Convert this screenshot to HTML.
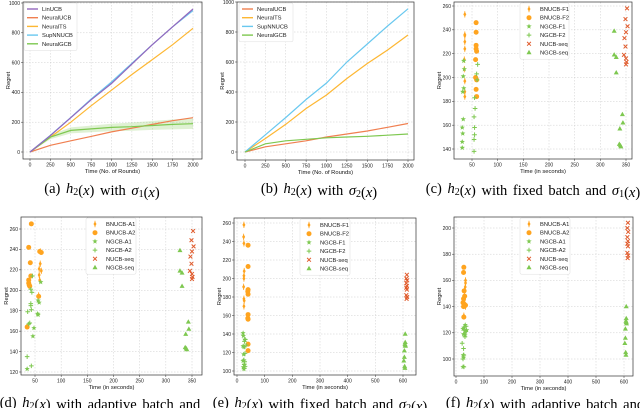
<!DOCTYPE html>
<html><head><meta charset="utf-8"><style>
html,body{margin:0;padding:0;background:#fff;width:640px;height:408px;overflow:hidden}
svg{display:block}
text{font-family:"Liberation Sans",sans-serif}
.cap{font-family:"Liberation Serif",serif;font-size:14.5px;fill:#000;word-spacing:2px}
</style></head><body>
<svg id="fig" width="640" height="408" xmlns="http://www.w3.org/2000/svg"></svg>
<script>
// ---- panel a/b data ----
const roundsX = [0,250,500,750,1000,1250,1500,1750,2000];
const aLinUCB = [0,110,230,350,460,590,720,840,960];
const aSupNN = [0,112,232,355,470,595,720,840,950];
const aNeuralTS = [0,100,200,310,415,520,620,720,830];
const aNeuralUCB = [0,45,75,105,135,160,185,210,230];
const aNeuralGCB = [0,100,145,155,165,170,178,185,190];
const aGCBband = [0,15,20,22,25,28,30,33,35];
const bNeuralUCB = [0,35,55,75,100,120,140,165,190];
const bNeuralTS = [0,90,185,290,380,490,590,680,780];
const bSupNN = [0,115,230,350,460,600,720,840,955];
const bNeuralGCB = [0,55,75,85,95,100,105,112,120];
// ---- panel c ----
const cF1y=[253,236,235,230,224,215,207,197,188,184], cF1x=[36,36,36,36,36,35,35,36,36,36];
const cF2y=[246,238,227,224,222,215,200,198,190,184], cF2x=[58,58,58,58,59,57,57,59,58,59];
const cG1y=[214,207,201,191,188,165,158,153,146,141], cG1x=[34,35,33,34,32,33,31,32,31,31];
const cG2y=[211,203,198,183,174,167,158,152,148,138], cG2x=[61,59,60,55,56,54,55,55,54,54];
const cSy=[258,249,243,238,233,226,219,216,213,211], cSx=[352,349,353,350,347,349,346,350,351,350];
const cQy=[239,219,217,204,169,162,157,144,143,142], cQx=[327,327,331,331,343,344,338,337,339,340];
// ---- panel d ----
const dA1y=[238,226,221,219,215,210,195], dA1x=[60,60,58,62,58,59,57];
const dA2y=[265,242,238,237,227,214,210,207,205,204,194,164], dA2x=[43,38,59,62,41,42,38,38,39,40,57,35];
const dG1y=[208,190,188,177,176,163,155,123], dG1x=[61,56,58,55,56,48,46,35];
const dG2y=[214,201,198,187,185,181,179,168,167,135,126], dG2x=[45,42,44,42,42,43,36,40,38,35,43];
const dSy=cSy, dSx=cSx, dQy=cQy, dQx=cQx;
// ---- panel e ----
const eF1y=[258,245,238,208,203,200,191,178,176,170], eF1x=[25,24,25,26,25,25,24,25,26,25];
const eF2y=[236,213,188,186,183,161,157,156,129,122], eF2x=[40,40,40,39,40,40,39,40,40,40];
const eG1y=[141,138,134,127,126,118,111,107,104,102], eG1x=[22,23,28,22,25,24,22,27,23,25];
const eG2y=[134,132,128,126,119,112,110,107,105,103], eG2x=[30,27,33,26,29,25,28,26,29,27];
const eSy=[204,200,198,195,192,190,188,182,180,178], eSx=[614,612,615,612,614,612,614,612,615,613];
const eQy=[140,131,129,128,127,122,115,111,105,103], eQx=[608,608,607,608,609,605,605,603,606,607];
// ---- panel f ----
const fA1y=[160,158,155,152,147,145,142,141,140,133], fA1x=[34,34,33,30,32,30,29,33,34,28];
const fA2y=[170,166,152,148,146,143,142,141,140,132], fA2x=[28,27,29,31,27,25,29,34,27,28];
const fG1y=[126,124,123,122,121,119,118,103,101,94], fG1x=[33,28,25,38,34,27,32,26,27,25];
const fG2y=[125,122,121,119,117,112,108,103,100,94], fG2x=[36,31,35,29,32,22,27,28,25,28];
const fSy=[204,200,197,193,190,188,186,181,179,177], fSx=[614,612,615,612,614,612,614,612,615,613];
const fQy=[140,131,129,128,127,123,116,112,105,103], fQx=[608,608,607,608,609,605,605,603,606,607];

const NS='http://www.w3.org/2000/svg';
const svg=document.getElementById('fig');
function el(tag,attrs,parent){const e=document.createElementNS(NS,tag);for(const k in attrs)e.setAttribute(k,attrs[k]);(parent||svg).appendChild(e);return e;}
const C={purple:'#9467bd',orange:'#f07f50',yellow:'#fdb733',cyan:'#69c8ef',green:'#7ec850',bn:'#ffa41f',red:'#e05a2b'};

function makePanel(name,box,xd,yd,xticks,yticks,xlabel){
  const g=el('g',{});
  
  
  const sx=v=>xd[2]+(v-xd[0])/(xd[1]-xd[0])*(xd[3]-xd[2]);
  const sy=v=>yd[2]+(v-yd[0])/(yd[1]-yd[0])*(yd[3]-yd[2]);
  el('rect',{x:box[0],y:box[1],width:box[2]-box[0],height:box[3]-box[1],fill:'#fff'},g);
  xticks.forEach(t=>{const x=sx(t);
    el('line',{x1:x,x2:x,y1:box[1],y2:box[3],stroke:'#ccc','stroke-width':0.5,'stroke-dasharray':'1.5,1.5'},g);
    el('line',{x1:x,x2:x,y1:box[3],y2:box[3]+2,stroke:'#333','stroke-width':0.5},g);
    const tx=el('text',{x:x,y:box[3]+7.5,'font-size':5,'text-anchor':'middle',fill:'#222'},g);tx.textContent=t;
    
    });
  yticks.forEach(t=>{const y=sy(t);
    el('line',{x1:box[0],x2:box[2],y1:y,y2:y,stroke:'#ccc','stroke-width':0.5,'stroke-dasharray':'1.5,1.5'},g);
    el('line',{x1:box[0]-2,x2:box[0],y1:y,y2:y,stroke:'#333','stroke-width':0.5},g);
    const tx=el('text',{x:box[0]-3,y:y+1.8,'font-size':5,'text-anchor':'end',fill:'#222'},g);tx.textContent=t;
    
    });
  el('rect',{x:box[0],y:box[1],width:box[2]-box[0],height:box[3]-box[1],fill:'none',stroke:'#333','stroke-width':0.7},g);
  const xl=el('text',{x:(box[0]+box[2])/2,y:box[3]+14,'font-size':5.8,'text-anchor':'middle',fill:'#111'},g);xl.textContent=xlabel;
  
  
  const ymid=(box[1]+box[3])/2, yx=box[0]-13;
  const yl=el('text',{x:yx,y:ymid,'font-size':5.8,'text-anchor':'middle',fill:'#111',transform:`rotate(-90 ${yx} ${ymid})`},g);yl.textContent='Regret';
  
  
  return {g,sx,sy};
}
function line(P,xs,ys,color,name){
  const d=xs.map((x,i)=>(i?'L':'M')+P.sx(x).toFixed(1)+','+P.sy(ys[i]).toFixed(1)).join('');
  const p=el('path',{d,fill:'none',stroke:color,'stroke-width':1.2},P.g);
  
  
}
function band(P,xs,ys,w,color){
  const up=xs.map((x,i)=>P.sx(x).toFixed(1)+','+P.sy(ys[i]+w[i]).toFixed(1));
  const dn=xs.map((x,i)=>P.sx(x).toFixed(1)+','+P.sy(ys[i]-w[i]).toFixed(1)).reverse();
  const p=el('polygon',{points:up.concat(dn).join(' '),fill:color,opacity:0.25},P.g);
  
  
}
function marker(g,type,x,y){
  const s=2.3;
  if(type==='dbar'){el('line',{x1:x,x2:x,y1:y-3.2,y2:y+3.2,stroke:C.bn,'stroke-width':0.8},g);
    el('polygon',{points:`${x},${y-2.6} ${x+1.5},${y} ${x},${y+2.6} ${x-1.5},${y}`,fill:C.bn},g);}
  else if(type==='oct'){el('circle',{cx:x,cy:y,r:2.5,fill:C.bn},g);}
  else if(type==='star'){let pts=[];for(let i=0;i<10;i++){const a=-Math.PI/2+i*Math.PI/5,r=i%2?1.2:2.8;pts.push((x+r*Math.cos(a)).toFixed(1)+','+(y+r*Math.sin(a)).toFixed(1));}el('polygon',{points:pts.join(' '),fill:C.green},g);}
  else if(type==='plus'){el('path',{d:`M${x-s},${y}H${x+s}M${x},${y-s}V${y+s}`,stroke:C.green,'stroke-width':1},g);}
  else if(type==='x'){el('path',{d:`M${x-1.9},${y-1.9}L${x+1.9},${y+1.9}M${x-1.9},${y+1.9}L${x+1.9},${y-1.9}`,stroke:C.red,'stroke-width':1},g);}
  else if(type==='tri'){el('polygon',{points:`${x},${y-2.7} ${x+2.5},${y+1.7} ${x-2.5},${y+1.7}`,fill:C.green},g);}
}
function scatter(P,xs,ys,type,name){
  const g=el('g',{},P.g);
  
  
  xs.forEach((x,i)=>marker(g,type,P.sx(x),P.sy(ys[i])));
}
function legend(P,x,y,w,items,kind){
  const g=el('g',{},P.g);
  
  
  const h=items.length*8.7+4;
  el('rect',{x,y,width:w,height:h,fill:'#fff',stroke:'#ddd','stroke-width':0.5,rx:1.5},g);
  items.forEach((it,i)=>{const cy=y+6+i*8.7;
    const e=el('g',{},g);
    
    
    if(kind==='line')el('line',{x1:x+3,x2:x+14,y1:cy,y2:cy,stroke:it[1],'stroke-width':1.4},e);
    else marker(e,it[1],x+9,cy);
    const t=el('text',{x:x+(kind==='line'?18:20),y:cy+2,'font-size':5.8,fill:'#222'},e);t.textContent=it[0];});
}
function caption(x,y,html,name){
  const t=el('text',{x,y,'class':'cap','text-anchor':'middle'});
  t.innerHTML=html;
  
  
}
const it=s=>`<tspan font-style="italic">${s}</tspan>`;
const sub=s=>`<tspan font-size="10" dy="2">${s}</tspan><tspan dy="-2"></tspan>`;
const h2=`${it('h')}${sub('2')}(${it('x')})`;
const sg=n=>`${it('σ')}${sub(n)}(${it('x')})`;

// Panel a
let P=makePanel('panel-a',[23,2,202,159],[0,2000,30,193],[0,1000,152,3],[0,250,500,750,1000,1250,1500,1750,2000],[0,200,400,600,800,1000],'Time (No. of Rounds)');
band(P,roundsX,aNeuralGCB,aGCBband,C.green);
line(P,roundsX,aNeuralTS,C.yellow,'neuralts-line');
line(P,roundsX,aNeuralUCB,C.orange,'neuralucb-line');
line(P,roundsX,aNeuralGCB,C.green,'neuralgcb-line');
line(P,roundsX,aSupNN,C.cyan,'supnnucb-line');
line(P,roundsX,aLinUCB,C.purple,'linucb-line');
legend(P,24,3,53,[['LinUCB',C.purple],['NeuralUCB',C.orange],['NeuralTS',C.yellow],['SupNNUCB',C.cyan],['NeuralGCB',C.green]],'line');
caption(102,193,`(a) ${h2} with ${sg('1')}`,'caption-a');
// Panel b
P=makePanel('panel-b',[237,2,414,160],[0,2000,245,408],[0,1000,152,2],[0,250,500,750,1000,1250,1500,1750,2000],[0,200,400,600,800,1000],'Time (No. of Rounds)');
line(P,roundsX,bNeuralUCB,C.orange,'neuralucb-line');
line(P,roundsX,bNeuralTS,C.yellow,'neuralts-line');
line(P,roundsX,bSupNN,C.cyan,'supnnucb-line');
line(P,roundsX,bNeuralGCB,C.green,'neuralgcb-line');
legend(P,239,3,54,[['NeuralUCB',C.orange],['NeuralTS',C.yellow],['SupNNUCB',C.cyan],['NeuralGCB',C.green]],'line');
caption(319,193,`(b) ${h2} with ${sg('2')}`,'caption-b');
// Panel c
P=makePanel('panel-c',[454,2,632,159],[50,350,472,626],[140,260,149,6],[50,100,150,200,250,300,350],[140,160,180,200,220,240,260],'Time (in seconds)');
scatter(P,cF1x,cF1y,'dbar','bnucb-f1');scatter(P,cF2x,cF2y,'oct','bnucb-f2');
scatter(P,cG1x,cG1y,'star','ngcb-f1');scatter(P,cG2x,cG2y,'plus','ngcb-f2');
scatter(P,cSx,cSy,'x','nucb-seq');scatter(P,cQx,cQy,'tri','ngcb-seq');
legend(P,520,3,49,[['BNUCB-F1','dbar'],['BNUCB-F2','oct'],['NGCB-F1','star'],['NGCB-F2','plus'],['NUCB-seq','x'],['NGCB-seq','tri']],'m');
caption(533,193,`(c) ${h2} with fixed batch and ${sg('1')}`,'caption-c');
// Panel d
P=makePanel('panel-d',[21,217,202,375],[50,350,35,192],[120,260,372,229],[50,100,150,200,250,300,350],[120,140,160,180,200,220,240,260],'Time (in seconds)');
scatter(P,dA1x,dA1y,'dbar','bnucb-a1');scatter(P,dA2x,dA2y,'oct','bnucb-a2');
scatter(P,dG1x,dG1y,'star','ngcb-a1');scatter(P,dG2x,dG2y,'plus','ngcb-a2');
scatter(P,dSx,dSy,'x','nucb-seq');scatter(P,dQx,dQy,'tri','ngcb-seq');
legend(P,86,218,50,[['BNUCB-A1','dbar'],['BNUCB-A2','oct'],['NGCB-A1','star'],['NGCB-A2','plus'],['NUCB-seq','x'],['NGCB-seq','tri']],'m');
caption(100,407,`(d) ${h2} with adaptive batch and`,'caption-d');
// Panel e
P=makePanel('panel-e',[234,218,416,375],[0,600,237,403],[100,260,371,223],[0,100,200,300,400,500,600],[100,120,140,160,180,200,220,240,260],'Time (in seconds)');
scatter(P,eF1x,eF1y,'dbar','bnucb-f1');scatter(P,eF2x,eF2y,'oct','bnucb-f2');
scatter(P,eG1x,eG1y,'star','ngcb-f1');scatter(P,eG2x,eG2y,'plus','ngcb-f2');
scatter(P,eSx,eSy,'x','nucb-seq');scatter(P,eQx,eQy,'tri','ngcb-seq');
legend(P,300,219,50,[['BNUCB-F1','dbar'],['BNUCB-F2','oct'],['NGCB-F1','star'],['NGCB-F2','plus'],['NUCB-seq','x'],['NGCB-seq','tri']],'m');
caption(320,407,`(e) ${h2} with fixed batch and ${sg('2')}`,'caption-e');
// Panel f
P=makePanel('panel-f',[454,217,633,376],[0,600,456,624],[100,200,359,228],[0,100,200,300,400,500,600],[100,120,140,160,180,200],'Time (in seconds)');
scatter(P,fA1x,fA1y,'dbar','bnucb-a1');scatter(P,fA2x,fA2y,'oct','bnucb-a2');
scatter(P,fG1x,fG1y,'star','ngcb-a1');scatter(P,fG2x,fG2y,'plus','ngcb-a2');
scatter(P,fSx,fSy,'x','nucb-seq');scatter(P,fQx,fQy,'tri','ngcb-seq');
legend(P,520,218,50,[['BNUCB-A1','dbar'],['BNUCB-A2','oct'],['NGCB-A1','star'],['NGCB-A2','plus'],['NUCB-seq','x'],['NGCB-seq','tri']],'m');
caption(545,407,`(f) ${h2} with adaptive batch and`,'caption-f');
</script>
</body></html>
